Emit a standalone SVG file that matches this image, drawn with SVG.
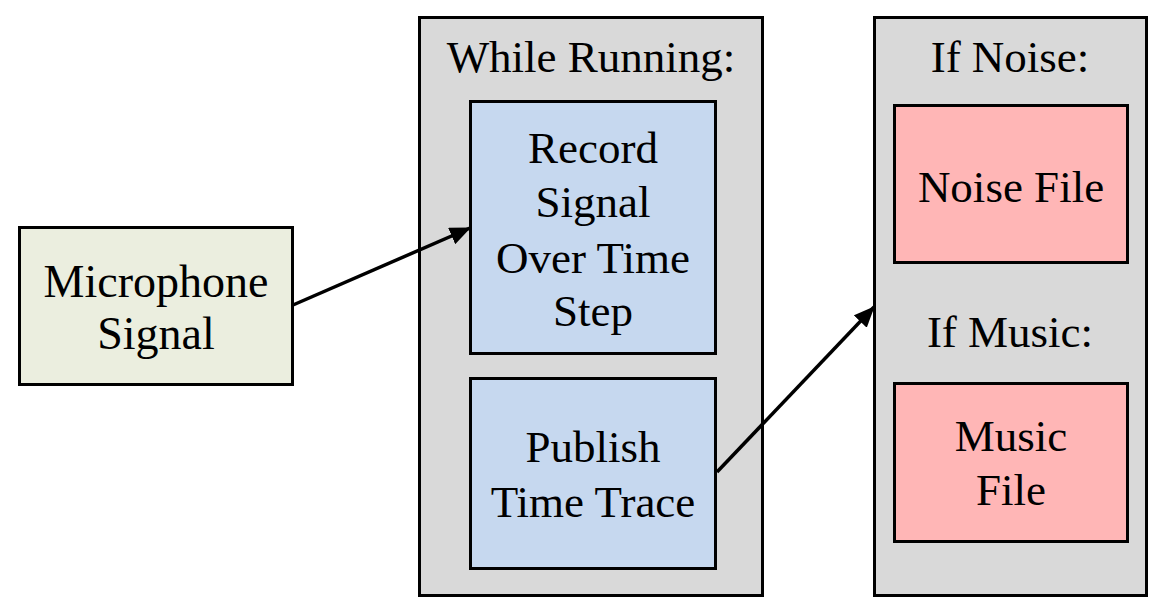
<svg xmlns="http://www.w3.org/2000/svg" width="1166" height="614" viewBox="0 0 1166 614">
<style>
  text { font-family: "Liberation Serif", "Times New Roman", serif; font-size: 45px; fill: #000; text-anchor: middle; }
  .big { font-size: 46px; }
  .box { stroke: #000; stroke-width: 3; }
  .grp { fill: #d9d9d9; }
  .green { fill: #ebeedf; }
  .blue { fill: #c6d8ef; }
  .pink { fill: #ffb6b6; }
  .conn { stroke: #000; stroke-width: 3.5; fill: none; }
</style>
<defs>
  <marker id="arrow" markerUnits="userSpaceOnUse" markerWidth="22" markerHeight="18" refX="20" refY="9" orient="auto">
    <path d="M0,0 L21,9 L0,18 Z" fill="#000"/>
  </marker>
</defs>
<rect width="1166" height="614" fill="#fff"/>
<g id="while-running">
  <rect class="box grp" x="419.5" y="17.5" width="343" height="578"/>
  <text x="591" y="72">While Running:</text>
</g>
<g id="if-group">
  <rect class="box grp" x="874.5" y="17.5" width="272" height="578"/>
  <text x="1010" y="72">If Noise:</text>
  <text x="1010" y="347">If Music:</text>
</g>
<g id="microphone">
  <rect class="box green" x="19.5" y="227.5" width="273" height="157"/>
  <text class="big" x="156" y="297">Microphone</text>
  <text class="big" x="156" y="349">Signal</text>
</g>
<g id="record">
  <rect class="box blue" x="470.5" y="101.5" width="245" height="252"/>
  <text x="593" y="163">Record</text>
  <text x="593" y="217">Signal</text>
  <text x="593" y="273">Over Time</text>
  <text x="593" y="326">Step</text>
</g>
<g id="publish">
  <rect class="box blue" x="470.5" y="378.5" width="245" height="190"/>
  <text x="593" y="462">Publish</text>
  <text x="593" y="517">Time Trace</text>
</g>
<g id="noise-file">
  <rect class="box pink" x="894.5" y="105.5" width="233" height="157"/>
  <text x="1011" y="202">Noise File</text>
</g>
<g id="music-file">
  <rect class="box pink" x="894.5" y="383.5" width="233" height="158"/>
  <text x="1011" y="451">Music</text>
  <text x="1011" y="505">File</text>
</g>
<g id="connectors">
  <line class="conn" x1="293" y1="305" x2="470" y2="228" marker-end="url(#arrow)"/>
  <line class="conn" x1="717" y1="472" x2="874" y2="307" marker-end="url(#arrow)"/>
</g>
</svg>
